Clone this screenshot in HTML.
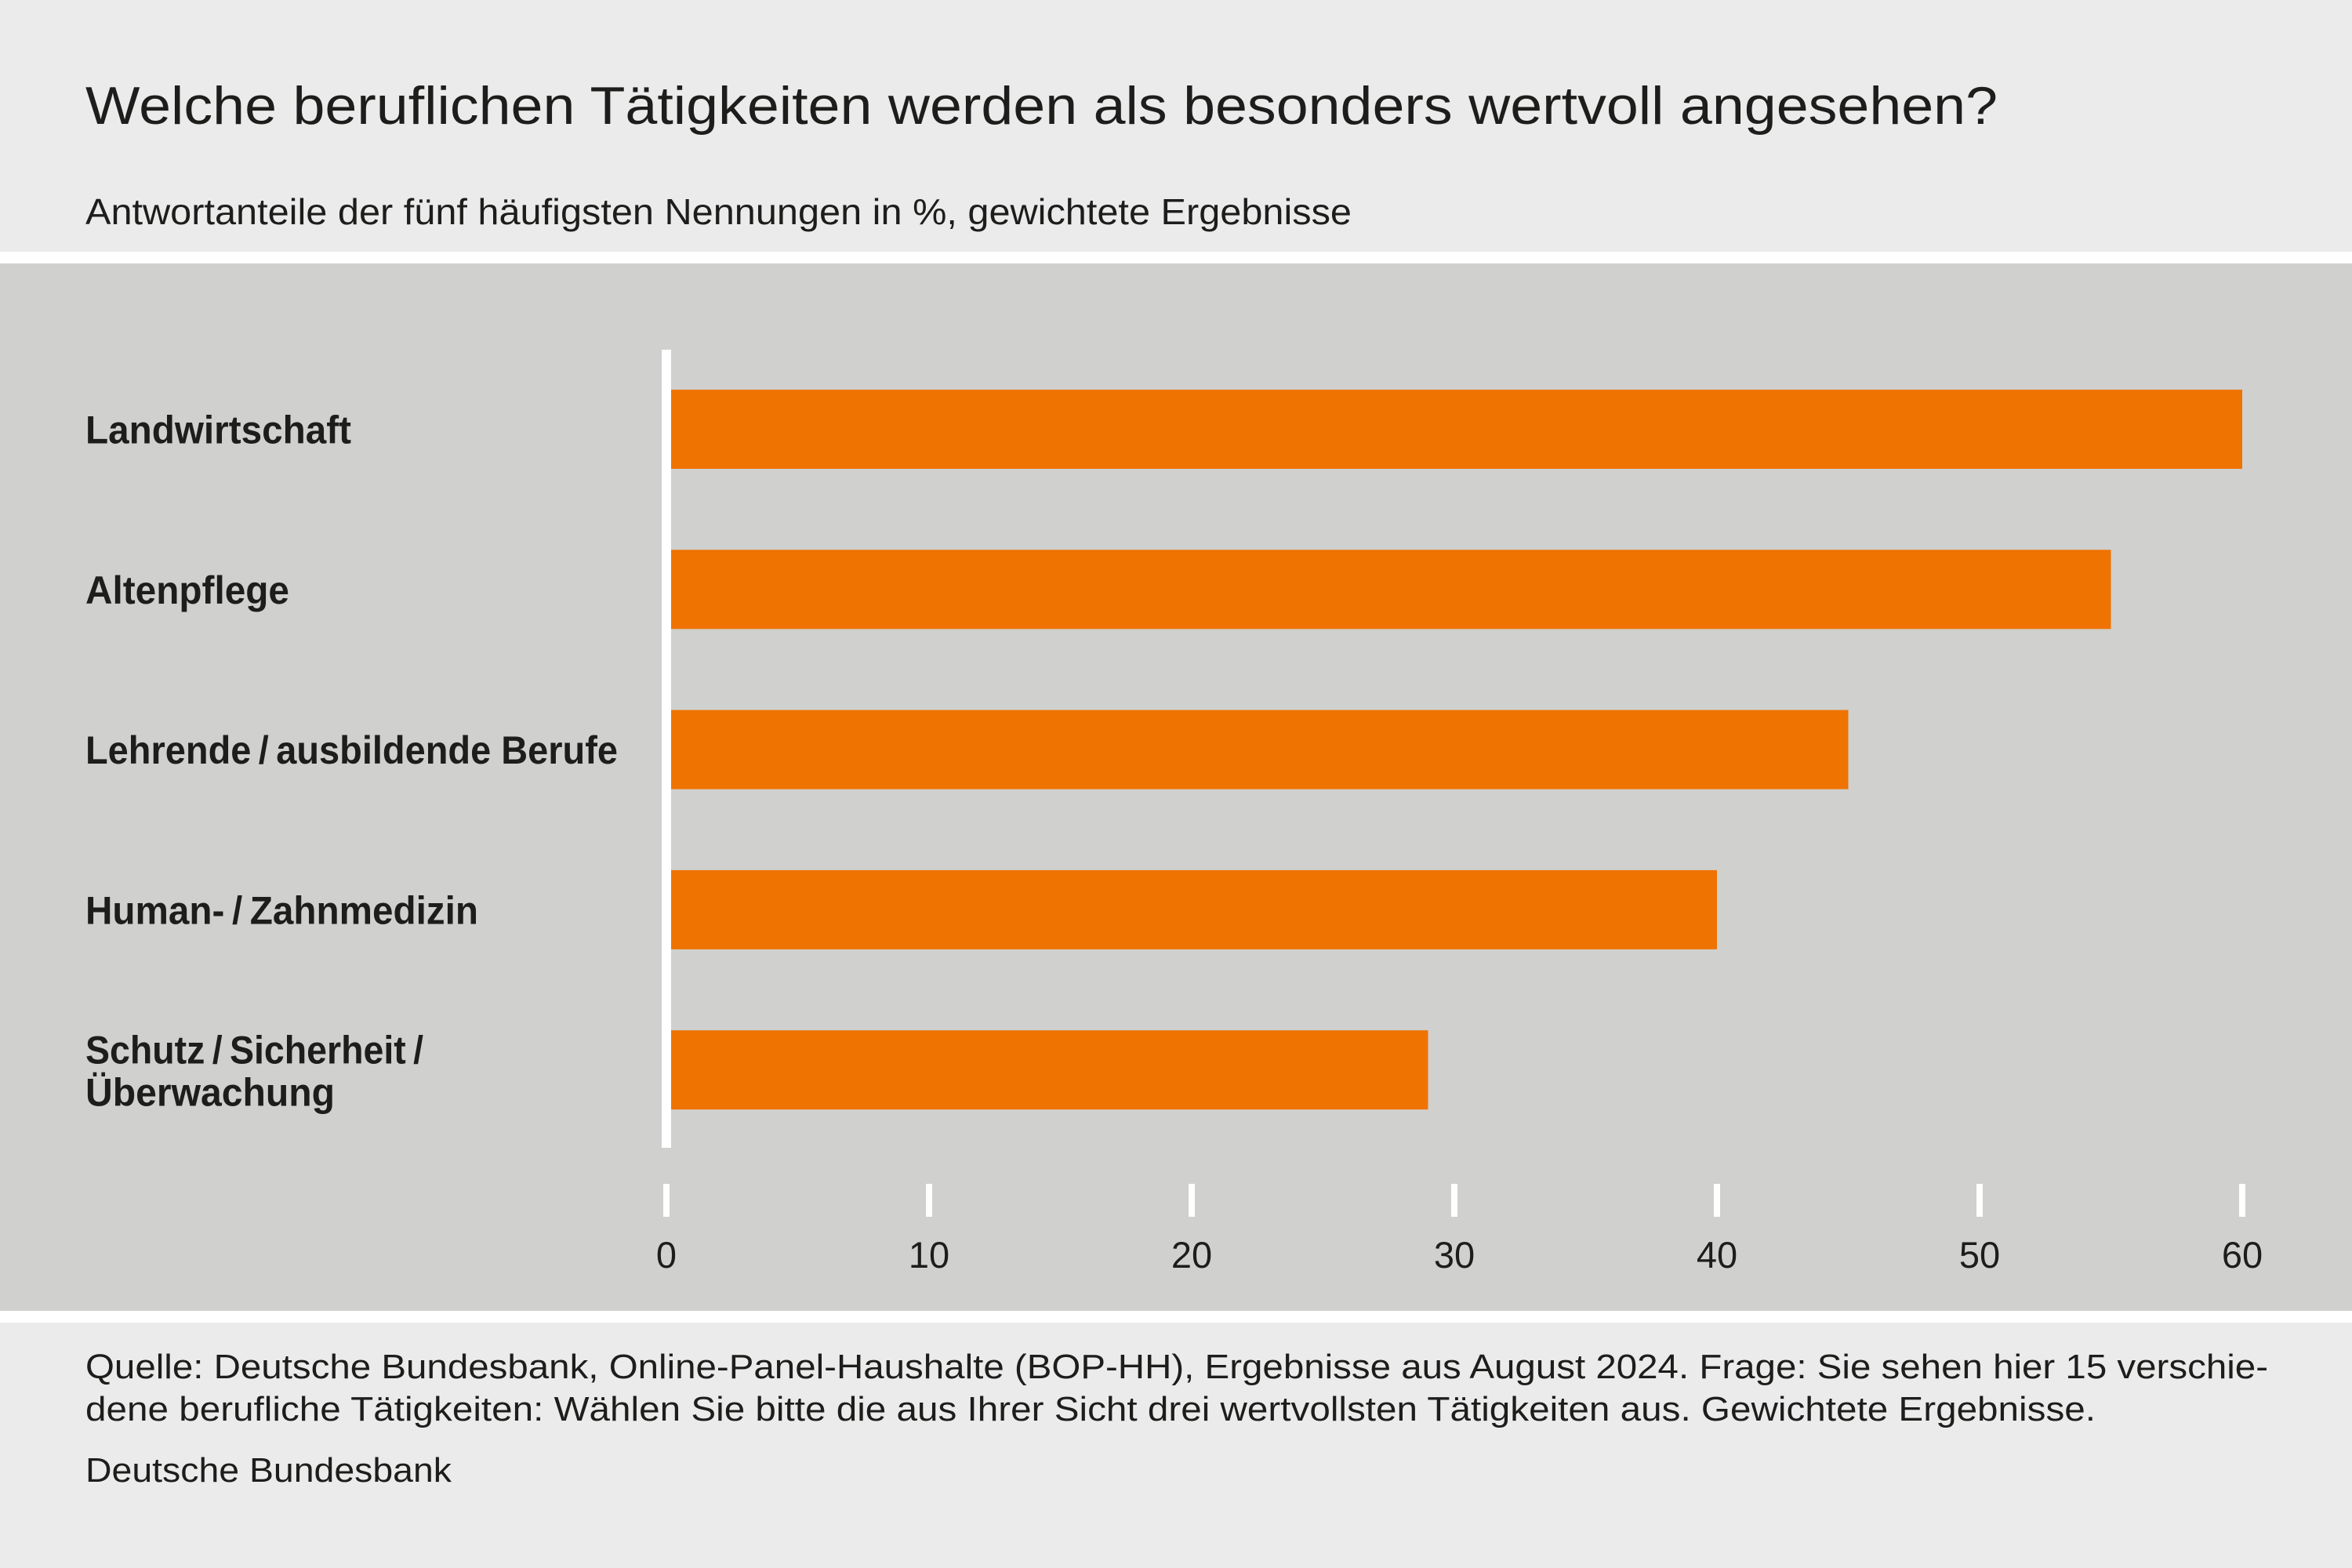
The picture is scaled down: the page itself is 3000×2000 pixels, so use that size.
<!DOCTYPE html>
<html><head><meta charset="utf-8"><style>
html,body{margin:0;padding:0;width:3000px;height:2000px;overflow:hidden;background:#ebebeb}
svg{display:block}
text{font-family:"Liberation Sans",sans-serif;fill:#1d1d1b}
</style></head><body>
<svg id="chart" width="3000" height="2000" viewBox="0 0 3000 2000">
<rect x="0" y="0" width="3000" height="321" fill="#ebebeb"/>
<rect x="0" y="321" width="3000" height="15" fill="#ffffff"/>
<rect x="0" y="336" width="3000" height="1336" fill="#d0d0ce"/>
<rect x="0" y="1672" width="3000" height="15" fill="#ffffff"/>
<text x="109" y="158" font-size="68" textLength="2439" lengthAdjust="spacingAndGlyphs">Welche beruflichen Tätigkeiten werden als besonders wertvoll angesehen?</text>
<text x="109" y="286" font-size="46" textLength="1615" lengthAdjust="spacingAndGlyphs">Antwortanteile der fünf häufigsten Nennungen in %, gewichtete Ergebnisse</text>
<g id="bars"></g>
<g id="labels"></g>
<g id="ticks"></g>
<rect x="844" y="446" width="12" height="1018" fill="#ffffff"/>
<text x="109" y="1758" font-size="44" textLength="2784" lengthAdjust="spacingAndGlyphs">Quelle: Deutsche Bundesbank, Online-Panel-Haushalte (BOP-HH), Ergebnisse aus August 2024. Frage: Sie sehen hier 15 verschie-</text>
<text x="109" y="1812" font-size="44" textLength="2564" lengthAdjust="spacingAndGlyphs">dene berufliche Tätigkeiten: Wählen Sie bitte die aus Ihrer Sicht drei wertvollsten Tätigkeiten aus. Gewichtete Ergebnisse.</text>
<text x="109" y="1890" font-size="44" textLength="467" lengthAdjust="spacingAndGlyphs">Deutsche Bundesbank</text>
</svg>
<script>
const categories = ["Landwirtschaft","Altenpflege","Lehrende / ausbildende Berufe","Human- / Zahnmedizin","Schutz / Sicherheit / Überwachung"];
const values = [60, 55, 45, 40, 29];
const tickValues = [0, 10, 20, 30, 40, 50, 60];
const tickLabels = ["0","10","20","30","40","50","60"];

const NS = "http://www.w3.org/2000/svg";
const x = v => 850 + v * (2860 - 850) / 60;
const barTop = i => 497 + i * 204.3;
const barH = 101;

const labelLines = [["Landwirtschaft"],["Altenpflege"],["Lehrende\u2009/\u2009ausbildende Berufe"],["Human-\u2009/\u2009Zahnmedizin"],["Schutz\u2009/\u2009Sicherheit\u2009/","Überwachung"]];
const labelWidths = [[339],[260],[679],[501],[431,318]];

const gb = document.getElementById("bars");
const gl = document.getElementById("labels");
const gt = document.getElementById("ticks");

categories.forEach((c, i) => {
  const r = document.createElementNS(NS, "rect");
  
  
  r.setAttribute("x", 856);
  r.setAttribute("y", barTop(i));
  r.setAttribute("width", Math.max(0, x(values[i]) - 856));
  r.setAttribute("height", barH);
  r.setAttribute("fill", "#ef7300");
  gb.appendChild(r);

  const lines = labelLines[i];
  const mid = barTop(i) + barH / 2;
  lines.forEach((ln, j) => {
    const t = document.createElementNS(NS, "text");
    
    
    t.setAttribute("x", 109);
    const base = lines.length === 1 ? mid + 18 : mid - 8 + j * 54;
    t.setAttribute("y", base);
    t.setAttribute("font-size", "50");
    t.setAttribute("font-weight", "bold");
    t.setAttribute("textLength", labelWidths[i][j]);
    t.setAttribute("lengthAdjust", "spacingAndGlyphs");
    t.textContent = ln;
    gl.appendChild(t);
  });
});

tickValues.forEach((v, i) => {
  const tk = document.createElementNS(NS, "rect");
  
  
  tk.setAttribute("x", x(v) - 4);
  tk.setAttribute("y", 1510);
  tk.setAttribute("width", 8);
  tk.setAttribute("height", 42);
  tk.setAttribute("fill", "#ffffff");
  gt.appendChild(tk);
  const t = document.createElementNS(NS, "text");
  
  
  t.setAttribute("x", x(v));
  t.setAttribute("y", 1617);
  t.setAttribute("font-size", "47");
  t.setAttribute("text-anchor", "middle");
  t.textContent = tickLabels[i];
  gt.appendChild(t);
});
</script>
</body></html>
